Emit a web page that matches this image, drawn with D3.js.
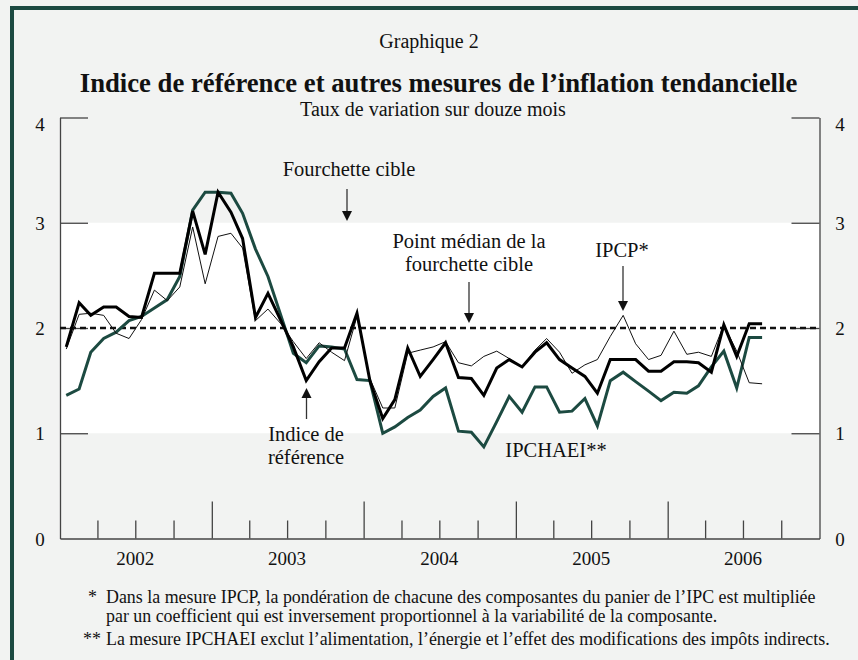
<!DOCTYPE html>
<html>
<head>
<meta charset="utf-8">
<script src="https://cdn.jsdelivr.net/npm/d3@7"></script>
<style>
body { margin: 0; background: #f2f3f2; }
svg { display: block; }
text { font-family: "Liberation Serif", "Times New Roman", serif; fill: #111; }
</style>
</head>
<body>
<div id="chart"></div>
<script>
// monthly values, Jan 2002 - Aug 2006
const indiceRef = [1.82, 2.24, 2.12, 2.20, 2.20, 2.11, 2.10, 2.52, 2.52, 2.52, 3.11, 2.70,
    3.29, 3.10, 2.85, 2.10, 2.33, 2.07, 1.82, 1.50, 1.68, 1.81, 1.81, 2.14,
    1.50, 1.14, 1.32, 1.81, 1.54, 1.70, 1.86, 1.53, 1.52, 1.36, 1.62, 1.70,
    1.63, 1.77, 1.86, 1.70, 1.62, 1.54, 1.38, 1.70, 1.70, 1.70, 1.59, 1.59,
    1.68, 1.68, 1.67, 1.58, 2.03, 1.73, 2.04, 2.04];
const ipcp = [1.80, 2.13, 2.14, 2.12, 1.95, 1.90, 2.08, 2.36, 2.26, 2.39, 2.96, 2.42,
    2.87, 2.90, 2.76, 2.07, 2.18, 2.04, 1.87, 1.71, 1.86, 1.77, 1.69, 2.11,
    1.52, 1.24, 1.24, 1.76, 1.79, 1.82, 1.87, 1.67, 1.64, 1.73, 1.78, 1.71,
    1.63, 1.79, 1.90, 1.77, 1.57, 1.65, 1.70, 1.92, 2.12, 1.85, 1.70, 1.74,
    1.97, 1.75, 1.77, 1.73, 2.03, 1.78, 1.48, 1.47];
const ipchaei = [1.36, 1.42, 1.77, 1.90, 1.96, 2.07, 2.11, 2.19, 2.27, 2.49, 3.12, 3.29,
    3.29, 3.28, 3.09, 2.75, 2.49, 2.12, 1.76, 1.67, 1.83, 1.82, 1.80, 1.51,
    1.50, 1.00, 1.06, 1.15, 1.22, 1.35, 1.43, 1.02, 1.01, 0.87, 1.11, 1.35,
    1.20, 1.44, 1.44, 1.20, 1.21, 1.33, 1.07, 1.50, 1.58, 1.49, 1.40, 1.31,
    1.39, 1.38, 1.45, 1.63, 1.78, 1.43, 1.91, 1.91];
const yTicks = [1, 2, 3, 4];
const yLabels = [0, 1, 2, 3, 4];
const years = ["2002", "2003", "2004", "2005", "2006"];
const footnotes = [
    {mark: "*", lines: ["Dans la mesure IPCP, la pondération de chacune des composantes du panier de l\u2019IPC est multipliée",
                        "par un coefficient qui est inversement proportionnel à la variabilité de la composante."]},
    {mark: "**", lines: ["La mesure IPCHAEI exclut l\u2019alimentation, l\u2019énergie et l\u2019effet des modifications des impôts indirects."]}
];

const W = 858, H = 660;
const green = "#1c4a41";

const svg = d3.select("#chart").append("svg")
    .attr("width", W)
    .attr("height", H);

svg.append("rect").attr("width", W).attr("height", H).attr("fill", "#f2f3f2");
svg.append("path")
    .attr("d", `M12,${H} V8 H${W}`)
    .attr("fill", "none")
    .attr("stroke", green)
    .attr("stroke-width", 4);

const x = d3.scaleTime()
    .domain([new Date(2002, 0, 1), new Date(2007, 0, 1)])
    .range([60, 819.5]);
const y = d3.scaleLinear().domain([0, 4]).range([538.5, 117.5]);

const months = indiceRef.map((d, i) => new Date(2002, i, 16));

// target band 1-3
svg.append("rect")
    .attr("x", x.range()[0]).attr("width", x.range()[1] - x.range()[0])
    .attr("y", y(3)).attr("height", y(1) - y(3))
    .attr("fill", "#ffffff");

// titles
svg.append("text").attr("x", 429).attr("y", 48).attr("text-anchor", "middle")
    .style("font-size", "20px").text("Graphique 2");
svg.append("text").attr("x", 438.5).attr("y", 92).attr("text-anchor", "middle")
    .style("font-size", "26.7px").style("font-weight", "bold")
    .text("Indice de référence et autres mesures de l\u2019inflation tendancielle");
svg.append("text").attr("x", 433).attr("y", 116).attr("text-anchor", "middle")
    .style("font-size", "20px").text("Taux de variation sur douze mois");

// axes
const axisColor = "#444";
const gl = svg.append("g").attr("transform", `translate(${x.range()[0]},0)`)
    .call(d3.axisLeft(y).tickValues(yTicks).tickSizeInner(-28).tickSizeOuter(0).tickFormat(""));
const gr = svg.append("g").attr("transform", `translate(${x.range()[1]},0)`)
    .call(d3.axisRight(y).tickValues(yTicks).tickSizeInner(-28).tickSizeOuter(0).tickFormat(""));

const quarters = d3.timeMonth.every(3).range(new Date(2002, 0, 1), new Date(2007, 0, 1))
    .filter(d => d.getMonth() !== 0);
const yearStarts = d3.timeYear.range(new Date(2003, 0, 1), new Date(2007, 0, 1));
const gq = svg.append("g").attr("transform", `translate(0,${y(0)})`)
    .call(d3.axisBottom(x).tickValues(quarters).tickSizeInner(-18).tickSizeOuter(0).tickFormat(""));
const gy = svg.append("g").attr("transform", `translate(0,${y(0)})`)
    .call(d3.axisBottom(x).tickValues(yearStarts).tickSizeInner(-37).tickSizeOuter(0).tickFormat(""));
gy.select(".domain").remove();

[gl, gr, gq, gy].forEach(g => {
    g.selectAll("path, line").attr("stroke", axisColor).attr("stroke-width", 1.3);
});

// the top label sits a little under its tick
const labY = d => d === 4 ? y(d) + 13 : y(d) + 7;
svg.selectAll(".ylab-left").data(yLabels).enter().append("text")
    .attr("x", 40).attr("y", labY).attr("text-anchor", "middle")
    .style("font-size", "19px").text(d => d);
svg.selectAll(".ylab-right").data(yLabels).enter().append("text")
    .attr("x", 840).attr("y", labY).attr("text-anchor", "middle")
    .style("font-size", "19px").text(d => d);

svg.selectAll(".year").data(years).enter().append("text")
    .attr("x", d => x(new Date(+d, 6, 1)))
    .attr("y", 565).attr("text-anchor", "middle")
    .style("font-size", "19px").text(d => d);

// midpoint line
svg.append("line")
    .attr("x1", x.range()[0]).attr("x2", x.range()[1])
    .attr("y1", y(2)).attr("y2", y(2))
    .attr("stroke", "#111").attr("stroke-width", 2.6).attr("stroke-dasharray", "6,4");

const line = d3.line().x((d, i) => x(months[i])).y(d => y(d));

svg.append("path").datum(ipchaei).attr("d", line)
    .attr("fill", "none").attr("stroke", green).attr("stroke-width", 3).attr("stroke-linejoin", "miter");
svg.append("path").datum(ipcp).attr("d", line)
    .attr("fill", "none").attr("stroke", "#111").attr("stroke-width", 1);
svg.append("path").datum(indiceRef).attr("d", line)
    .attr("fill", "none").attr("stroke", "#000").attr("stroke-width", 3);

// annotations
const annFont = "20.5px";
function label(cx, baseline, lines) {
    lines.forEach((t, i) => {
        svg.append("text").attr("x", cx).attr("y", baseline + i * 23)
            .attr("text-anchor", "middle").style("font-size", annFont).text(t);
    });
}
function arrow(ax, y1, tip) {
    const dir = tip > y1 ? 1 : -1;
    svg.append("line").attr("x1", ax).attr("x2", ax).attr("y1", y1).attr("y2", tip - dir * 8)
        .attr("stroke", "#333").attr("stroke-width", 1.3);
    svg.append("path")
        .attr("d", `M${ax - 5},${tip - dir * 10} L${ax + 5},${tip - dir * 10} L${ax},${tip} Z`)
        .attr("fill", "#111");
}

label(349, 176, ["Fourchette cible"]);
arrow(347, 189, 221);
label(469, 248, ["Point médian de la", "fourchette cible"]);
arrow(469, 282, 323);
label(622, 257, ["IPCP*"]);
arrow(623, 266, 311);
label(306, 441, ["Indice de", "référence"]);
arrow(306.5, 419, 388);
label(556, 457, ["IPCHAEI**"]);

// footnotes
const fnFont = "17.9px";
let fy = 603;
footnotes.forEach(f => {
    svg.append("text").attr("x", f.mark === "*" ? 88 : 83).attr("y", fy)
        .style("font-size", fnFont).text(f.mark);
    f.lines.forEach(t => {
        svg.append("text").attr("x", 106).attr("y", fy).style("font-size", fnFont).text(t);
        fy += 19;
    });
    fy += 4;
});
</script>
</body>
</html>
